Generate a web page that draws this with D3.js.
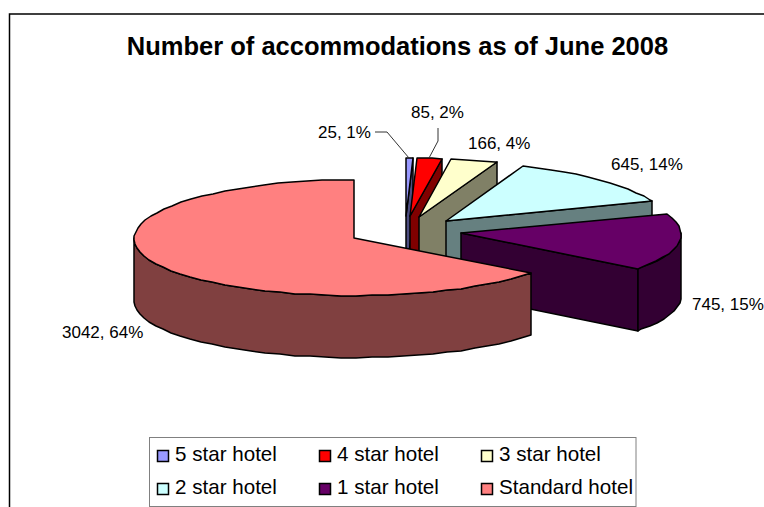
<!DOCTYPE html>
<html>
<head>
<meta charset="utf-8">
<script src="https://cdn.jsdelivr.net/npm/d3@7/dist/d3.min.js"></script>
<style>
	html, body { margin: 0; padding: 0; background: #fff; }
	svg { display: block; }
	text { font-family: "Liberation Sans", Arial, sans-serif; fill: #000; }
</style>
</head>
<body>
<div id="chart-area"></div>
<script>
// Data
let categories = ["5 star hotel", "4 star hotel", "3 star hotel", "2 star hotel", "1 star hotel", "Standard hotel"];
let counts = [25, 85, 166, 645, 745, 3042];
let percentLabels = ["1%", "2%", "4%", "14%", "15%", "64%"];
let colors = ["#9999ff", "#ff0000", "#ffffcc", "#ccffff", "#660066", "#ff8080"];

let width = 764, height = 507;

// Tilted pie layout
let center = {x: 405, y: 231};
let rx = 220, ry = 58, depth = 62, explode = 0.258;
let perspective = 0.02; // front of the pie is drawn a little wider than the back

// Label anchors (start of text, baseline)
let labelPos = [[318, 138], [411, 118], [468, 149], [611, 170], [692, 310], [62, 338]];

let svg = d3.select("#chart-area").append("svg")
	.attr("width", width)
	.attr("height", height);

// Chart frame, only top and left sides show
svg.append("path")
	.attr("d", "M9.5," + height + "V14H" + width)
	.attr("fill", "none")
	.attr("stroke", "#000")
	.attr("stroke-width", 1.5);

svg.append("text")
	.attr("x", 397.5)
	.attr("y", 55)
	.attr("text-anchor", "middle")
	.attr("font-weight", "bold")
	.attr("font-size", 25.5)
	.text("Number of accommodations as of June 2008");

let pie = d3.pie().sort(null);
let arcs = pie(counts);

let line = d3.line();

// project a pie angle (0 = top, clockwise) to the tilted ellipse
function rim(a, o, dy) {
	let wide = rx * (1 - perspective * Math.cos(a));
	return [Math.round(o.x + wide * Math.sin(a)), Math.round(o.y - ry * Math.cos(a) + dy)];
}

function rimPoints(a0, a1, o, dy) {
	let step = Math.PI / 45;
	let angles = d3.range(a0, a1, step).concat([a1]);
	return angles.map(a => rim(a, o, dy));
}

let slices = svg.append("g")
	.attr("stroke", "#000")
	.attr("stroke-width", 1.5)
	.attr("stroke-linejoin", "round");

arcs.forEach((d, i) => {
	let mid = (d.startAngle + d.endAngle) / 2;
	let o = {
		x: center.x + explode * rx * Math.sin(mid),
		y: center.y - explode * ry * Math.cos(mid)
	};
	let apex = [Math.round(o.x), Math.round(o.y)];
	let base = d3.rgb(colors[i]);
	let dark = d3.rgb(base.r / 2, base.g / 2, base.b / 2);

	// cut face below the closing edge
	if (d.endAngle < Math.PI) {
		let e0 = rim(d.endAngle, o, 0), e1 = rim(d.endAngle, o, depth);
		slices.append("path")
			.attr("d", line([apex, e0, e1, [apex[0], apex[1] + depth]]) + "Z")
			.attr("fill", dark);
	}

	// outer wall, only the part facing the viewer
	let a0 = Math.max(d.startAngle, Math.PI / 2);
	let a1 = Math.min(d.endAngle, Math.PI * 1.5);
	if (a0 < a1) {
		let pts = rimPoints(a0, a1, o, 0).concat(rimPoints(a0, a1, o, depth).reverse());
		slices.append("path")
			.attr("d", line(pts) + "Z")
			.attr("fill", dark);
	}

	// top face
	let top = [apex].concat(rimPoints(d.startAngle, d.endAngle, o, 0));
	slices.append("path")
		.attr("d", line(top) + "Z")
		.attr("fill", base);
});

// leader lines for the two thin slices
let leaders = [[[375, 132], [387, 132], [409, 158]], [[438, 128], [438, 141], [429, 158]]];
svg.selectAll(".leader").data(leaders)
	.enter().append("path")
	.attr("class", "leader")
	.attr("d", d => line(d))
	.attr("fill", "none")
	.attr("stroke", "#333")
	.attr("stroke-width", 1);

svg.selectAll(".data-label").data(categories)
	.enter().append("text")
	.attr("class", "data-label")
	.attr("x", (d, i) => labelPos[i][0])
	.attr("y", (d, i) => labelPos[i][1])
	.attr("font-size", 17)
	.text((d, i) => counts[i] + ", " + percentLabels[i]);

// Legend
let legendCols = [157, 319, 481];
let legendRows = [450, 483];

svg.append("rect")
	.attr("x", 149.5)
	.attr("y", 437.5)
	.attr("width", 486.5)
	.attr("height", 69)
	.attr("fill", "#fff")
	.attr("stroke", "#808080");

let legend = svg.selectAll(".legend-item").data(categories)
	.enter().append("g")
	.attr("class", "legend-item")
	.attr("transform", (d, i) => "translate(" + legendCols[i % 3] + "," + legendRows[Math.floor(i / 3)] + ")");

legend.append("rect")
	.attr("x", 0.5)
	.attr("y", 0.5)
	.attr("width", 11)
	.attr("height", 11)
	.attr("fill", (d, i) => colors[i])
	.attr("stroke", "#000")
	.attr("stroke-width", 1.5);

legend.append("text")
	.attr("x", 18)
	.attr("y", 11)
	.attr("font-size", 20.6)
	.text(d => d);
</script>
</body>
</html>
